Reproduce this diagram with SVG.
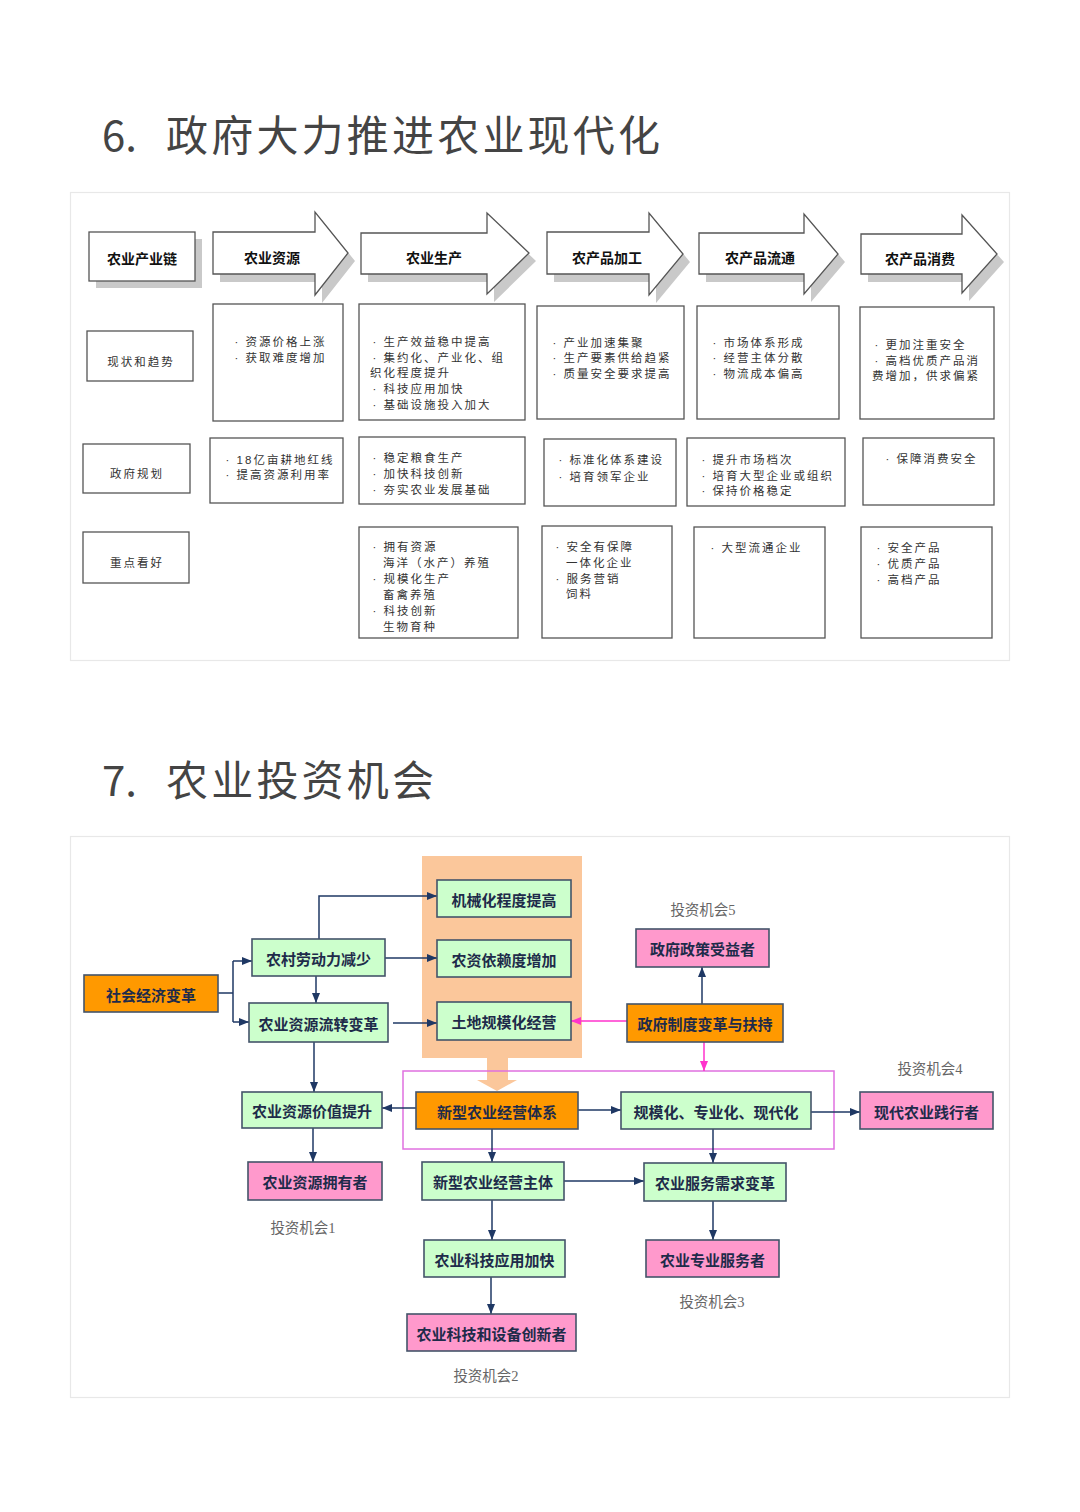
<svg xmlns="http://www.w3.org/2000/svg" width="1080" height="1512" viewBox="0 0 1080 1512">
<defs>
<style>
.title{font-family:"Noto Sans CJK SC","Liberation Sans",sans-serif;font-size:42px;fill:#444}
.panel{fill:#fff;stroke:#e8e8e8;stroke-width:1.2}
.box{fill:#fff;stroke:#555;stroke-width:1.3}
.shd{fill:#c9c9c9}
.hdr{font-family:"Noto Sans CJK SC",sans-serif;font-weight:700;font-size:14px;fill:#111;text-anchor:middle;dominant-baseline:central}
.t{font-family:"Liberation Sans","Noto Sans CJK SC",sans-serif;font-size:11.5px;fill:#333;letter-spacing:2px;dominant-baseline:central}
.lbl{font-family:"Noto Sans CJK SC",sans-serif;font-size:11.5px;fill:#333;letter-spacing:2px;text-anchor:middle;dominant-baseline:central}
.nb{stroke:#44546a;stroke-width:1.6}
.g{fill:#ccffcc}.p{fill:#ff99cc}.o{fill:#ff9900}
.nt{font-family:"Noto Sans CJK SC",sans-serif;font-weight:700;font-size:15px;fill:#1e2b4a;text-anchor:middle;dominant-baseline:central}
.inv{font-family:"Liberation Serif","Noto Sans CJK SC",serif;font-size:14.5px;fill:#666;text-anchor:middle;dominant-baseline:central}
.c{fill:none;stroke:#1f3864;stroke-width:1.5}
.cm{fill:none;stroke:#ff33cc;stroke-width:1.5}
</style>
<marker id="ah" viewBox="0 0 10 8" refX="10" refY="4" markerWidth="10" markerHeight="8" markerUnits="userSpaceOnUse" orient="auto">
<path d="M0,0 L10,4 L0,8 z" fill="#1f3864"/>
</marker>
<marker id="ahm" viewBox="0 0 10 8" refX="10" refY="4" markerWidth="10" markerHeight="8" markerUnits="userSpaceOnUse" orient="auto">
<path d="M0,0 L10,4 L0,8 z" fill="#ff33cc"/>
</marker>
</defs>
<rect width="1080" height="1512" fill="#fff"/>

<g id="title6"><text class="title" x="102" y="151">6.</text><text class="title" x="166" y="151" textLength="494" lengthAdjust="spacing">政府大力推进农业现代化</text></g>
<rect class="panel" x="70.5" y="192.5" width="939" height="468"/>

<!-- header row -->
<g id="h-chain">
<rect class="shd" x="96" y="239" width="106" height="49"/>
<rect class="box" x="89" y="232" width="106" height="49"/>
<text class="hdr" x="142" y="258">农业产业链</text>
</g>
<g id="h-res">
<polygon class="shd" transform="translate(7,8)" points="213,232 315,232 315,212 348,253 315,295 315,274 213,274"/>
<polygon class="box" points="213,232 315,232 315,212 348,253 315,295 315,274 213,274"/>
<text class="hdr" x="272" y="257">农业资源</text>
</g>
<g id="h-prod">
<polygon class="shd" transform="translate(7,8)" points="361,233 487,233 487,213 529,253 487,294 487,274 361,274"/>
<polygon class="box" points="361,233 487,233 487,213 529,253 487,294 487,274 361,274"/>
<text class="hdr" x="434" y="257">农业生产</text>
</g>
<g id="h-proc">
<polygon class="shd" transform="translate(7,8)" points="547,232 649,232 649,213 683,254 649,295 649,274 547,274"/>
<polygon class="box" points="547,232 649,232 649,213 683,254 649,295 649,274 547,274"/>
<text class="hdr" x="607" y="257">农产品加工</text>
</g>
<g id="h-circ">
<polygon class="shd" transform="translate(7,8)" points="699,233 804,233 804,214 838,254 804,294 804,274 699,274"/>
<polygon class="box" points="699,233 804,233 804,214 838,254 804,294 804,274 699,274"/>
<text class="hdr" x="760" y="257">农产品流通</text>
</g>
<g id="h-cons">
<polygon class="shd" transform="translate(7,8)" points="861,234 962,234 962,215 997,254 962,293 962,274 861,274"/>
<polygon class="box" points="861,234 962,234 962,215 997,254 962,293 962,274 861,274"/>
<text class="hdr" x="920" y="258">农产品消费</text>
</g>

<!-- row 2 -->
<g id="r2-label"><rect class="box" x="87" y="331" width="106" height="50"/><text class="lbl" x="141" y="361">现状和趋势</text></g>
<g id="r2-res"><rect class="box" x="213" y="304" width="130" height="117"/>
<text class="t" x="234.6" y="342">· 资源价格上涨</text>
<text class="t" x="234.6" y="358">· 获取难度增加</text></g>
<g id="r2-prod"><rect class="box" x="359" y="304" width="166" height="116"/>
<text class="t" x="372.6" y="342">· 生产效益稳中提高</text>
<text class="t" x="372.6" y="358">· 集约化、产业化、组</text>
<text class="t" x="370" y="373">织化程度提升</text>
<text class="t" x="372.6" y="389">· 科技应用加快</text>
<text class="t" x="372.6" y="405">· 基础设施投入加大</text></g>
<g id="r2-proc"><rect class="box" x="537" y="306" width="147" height="113"/>
<text class="t" x="552.6" y="343">· 产业加速集聚</text>
<text class="t" x="552.6" y="358">· 生产要素供给趋紧</text>
<text class="t" x="552.6" y="374">· 质量安全要求提高</text></g>
<g id="r2-circ"><rect class="box" x="697" y="306" width="142" height="113"/>
<text class="t" x="712.6" y="343">· 市场体系形成</text>
<text class="t" x="712.6" y="358">· 经营主体分散</text>
<text class="t" x="712.6" y="374">· 物流成本偏高</text></g>
<g id="r2-cons"><rect class="box" x="860" y="307" width="134" height="112"/>
<text class="t" x="874.6" y="345">· 更加注重安全</text>
<text class="t" x="874.6" y="361">· 高档优质产品消</text>
<text class="t" x="872" y="376">费增加，供求偏紧</text></g>

<!-- row 3 -->
<g id="r3-label"><rect class="box" x="83" y="444" width="107" height="49"/><text class="lbl" x="137" y="473">政府规划</text></g>
<g id="r3-res"><rect class="box" x="210" y="438" width="133" height="65"/>
<text class="t" x="225.6" y="460">· 18亿亩耕地红线</text>
<text class="t" x="225.6" y="475">· 提高资源利用率</text></g>
<g id="r3-prod"><rect class="box" x="359" y="437" width="166" height="67"/>
<text class="t" x="372.6" y="458">· 稳定粮食生产</text>
<text class="t" x="372.6" y="474">· 加快科技创新</text>
<text class="t" x="372.6" y="490">· 夯实农业发展基础</text></g>
<g id="r3-proc"><rect class="box" x="544" y="439" width="132" height="67"/>
<text class="t" x="558.6" y="460">· 标准化体系建设</text>
<text class="t" x="558.6" y="477">· 培育领军企业</text></g>
<g id="r3-circ"><rect class="box" x="687" y="438" width="158" height="68"/>
<text class="t" x="701.6" y="460">· 提升市场档次</text>
<text class="t" x="701.6" y="476">· 培育大型企业或组织</text>
<text class="t" x="701.6" y="491">· 保持价格稳定</text></g>
<g id="r3-cons"><rect class="box" x="863" y="438" width="131" height="67"/>
<text class="t" x="885.6" y="459">· 保障消费安全</text></g>

<!-- row 4 -->
<g id="r4-label"><rect class="box" x="83" y="532" width="106" height="51"/><text class="lbl" x="137" y="562">重点看好</text></g>
<g id="r4-prod"><rect class="box" x="359" y="527" width="159" height="111"/>
<text class="t" x="372.6" y="547">· 拥有资源</text>
<text class="t" x="383" y="563">海洋（水产）养殖</text>
<text class="t" x="372.6" y="579">· 规模化生产</text>
<text class="t" x="383" y="595">畜禽养殖</text>
<text class="t" x="372.6" y="611">· 科技创新</text>
<text class="t" x="383" y="627">生物育种</text></g>
<g id="r4-proc"><rect class="box" x="542" y="526" width="130" height="112"/>
<text class="t" x="555.6" y="547">· 安全有保障</text>
<text class="t" x="566" y="563">一体化企业</text>
<text class="t" x="555.6" y="579">· 服务营销</text>
<text class="t" x="566" y="594">饲料</text></g>
<g id="r4-circ"><rect class="box" x="694" y="527" width="131" height="111"/>
<text class="t" x="710.6" y="548">· 大型流通企业</text></g>
<g id="r4-cons"><rect class="box" x="861" y="527" width="131" height="111"/>
<text class="t" x="876.6" y="548">· 安全产品</text>
<text class="t" x="876.6" y="564">· 优质产品</text>
<text class="t" x="876.6" y="580">· 高档产品</text></g>

<!-- section 7 -->
<g id="title7"><text class="title" x="102" y="796">7.</text><text class="title" x="166" y="796" textLength="268" lengthAdjust="spacing">农业投资机会</text></g>
<rect class="panel" x="70.5" y="836.5" width="939" height="561"/>

<g id="peach-zone">
<rect x="422" y="856" width="160" height="202" fill="#fbc79b"/>
<polygon points="487,1058 508,1058 508,1080 517,1080 497,1091 477,1080 487,1080" fill="#fbc79b"/>
</g>
<rect id="system-frame" x="403" y="1071" width="431" height="78" fill="none" stroke="#e070e0" stroke-width="1.5"/>

<g id="connectors">
<path class="c" d="M218,993 H233 M233,961 V1022"/>
<path class="c" d="M233,961 H252" marker-end="url(#ah)"/>
<path class="c" d="M233,1022 H249" marker-end="url(#ah)"/>
<path class="c" d="M319,939 V896 H437" marker-end="url(#ah)"/>
<path class="c" d="M385,958 H437" marker-end="url(#ah)"/>
<path class="c" d="M316,976 V1003" marker-end="url(#ah)"/>
<path class="c" d="M393,1023 H437" marker-end="url(#ah)"/>
<path class="c" d="M314,1042 V1092" marker-end="url(#ah)"/>
<path class="c" d="M416,1108 H382" marker-end="url(#ah)"/>
<path class="c" d="M578,1110 H621" marker-end="url(#ah)"/>
<path class="c" d="M811,1112 H860" marker-end="url(#ah)"/>
<path class="c" d="M313,1128 V1162" marker-end="url(#ah)"/>
<path class="c" d="M492,1129 V1162" marker-end="url(#ah)"/>
<path class="c" d="M713,1129 V1163" marker-end="url(#ah)"/>
<path class="c" d="M564,1181 H644" marker-end="url(#ah)"/>
<path class="c" d="M713,1201 V1240" marker-end="url(#ah)"/>
<path class="c" d="M492,1200 V1240" marker-end="url(#ah)"/>
<path class="c" d="M491,1277 V1314" marker-end="url(#ah)"/>
<path class="c" d="M702,1004 V967" marker-end="url(#ah)"/>
<path class="cm" d="M627,1021 H571" marker-end="url(#ahm)"/>
<path class="cm" d="M704,1042 V1071" marker-end="url(#ahm)"/>
</g>

<g id="n-social"><rect class="nb o" x="84" y="975" width="134" height="37"/><text class="nt" x="151" y="994">社会经济变革</text></g>
<g id="n-labor"><rect class="nb g" x="252" y="939" width="133" height="37"/><text class="nt" x="318.5" y="958">农村劳动力减少</text></g>
<g id="n-flow"><rect class="nb g" x="249" y="1003" width="139" height="39"/><text class="nt" x="318.5" y="1023">农业资源流转变革</text></g>
<g id="n-mech"><rect class="nb g" x="437" y="880" width="134" height="37"/><text class="nt" x="504" y="899">机械化程度提高</text></g>
<g id="n-input"><rect class="nb g" x="437" y="940" width="134" height="37"/><text class="nt" x="504" y="959">农资依赖度增加</text></g>
<g id="n-land"><rect class="nb g" x="437" y="1002" width="134" height="38"/><text class="nt" x="504" y="1021.5">土地规模化经营</text></g>
<g id="n-benef"><rect class="nb p" x="636" y="929" width="133" height="38"/><text class="nt" x="702.5" y="948.5">政府政策受益者</text></g>
<g id="n-gov"><rect class="nb o" x="627" y="1004" width="156" height="38"/><text class="nt" x="705" y="1023.5">政府制度变革与扶持</text></g>
<g id="n-system"><rect class="nb o" x="416" y="1092" width="162" height="37"/><text class="nt" x="497" y="1111">新型农业经营体系</text></g>
<g id="n-scale"><rect class="nb g" x="621" y="1092" width="190" height="37"/><text class="nt" x="716" y="1111">规模化、专业化、现代化</text></g>
<g id="n-modern"><rect class="nb p" x="860" y="1092" width="133" height="37"/><text class="nt" x="926.5" y="1111">现代农业践行者</text></g>
<g id="n-value"><rect class="nb g" x="242" y="1092" width="140" height="36"/><text class="nt" x="312" y="1110.5">农业资源价值提升</text></g>
<g id="n-owner"><rect class="nb p" x="248" y="1162" width="134" height="38"/><text class="nt" x="315" y="1181.5">农业资源拥有者</text></g>
<g id="n-entity"><rect class="nb g" x="422" y="1162" width="142" height="38"/><text class="nt" x="493" y="1181.5">新型农业经营主体</text></g>
<g id="n-service"><rect class="nb g" x="644" y="1163" width="142" height="38"/><text class="nt" x="715" y="1182.5">农业服务需求变革</text></g>
<g id="n-pro"><rect class="nb p" x="646" y="1240" width="133" height="37"/><text class="nt" x="712.5" y="1259">农业专业服务者</text></g>
<g id="n-tech"><rect class="nb g" x="424" y="1240" width="141" height="37"/><text class="nt" x="494.5" y="1259">农业科技应用加快</text></g>
<g id="n-innov"><rect class="nb p" x="407" y="1314" width="169" height="37"/><text class="nt" x="491.5" y="1333">农业科技和设备创新者</text></g>

<g id="opp-labels">
<text class="inv" x="703" y="910">投资机会5</text>
<text class="inv" x="930" y="1069">投资机会4</text>
<text class="inv" x="303" y="1228">投资机会1</text>
<text class="inv" x="712" y="1302">投资机会3</text>
<text class="inv" x="486" y="1376">投资机会2</text>
</g>
</svg>
